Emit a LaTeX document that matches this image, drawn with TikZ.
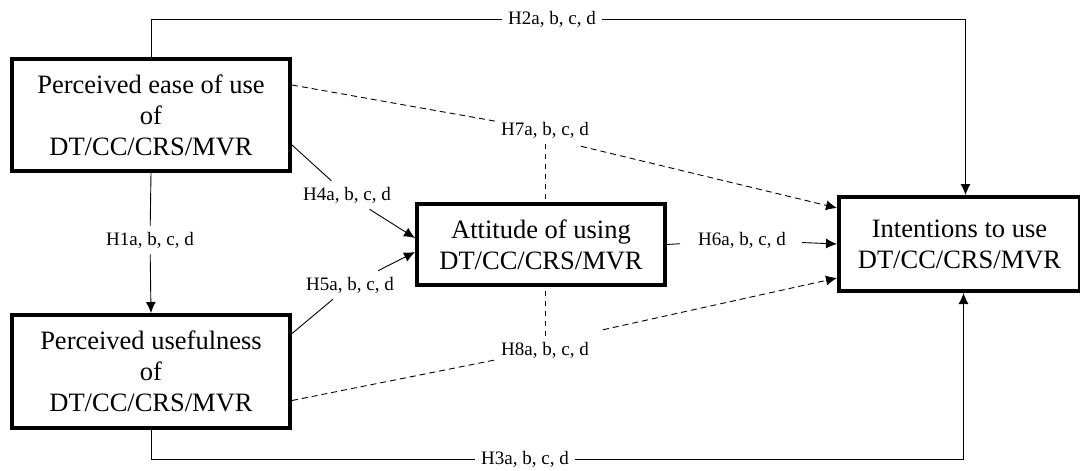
\documentclass[tikz,border=0pt]{standalone}
\usepackage{fontspec}
\setmainfont{Liberation Serif}
\usetikzlibrary{arrows.meta}

\begin{document}
\begin{tikzpicture}[x=1pt, y=-1pt,
    construct/.style={draw, line width=4pt, align=center, inner sep=0pt, font=\fontsize{26.5}{31}\selectfont},
    hyp/.style={inner sep=6pt, font=\fontsize{19}{22}\selectfont},
    link/.style={line width=0.9pt},
    effect/.style={link, -{Latex[length=11pt, width=10pt]}},
    weak/.style={link, dash pattern=on 6pt off 4pt}] % pixel-sized units, y runs downwards

        \useasboundingbox (0,0) rectangle (1080,471);

        % Define the 4 construct boxes
        \node[construct, minimum width=278pt, minimum height=112pt] (ease) at (151,115) {Perceived ease of use\\of\\DT/CC/CRS/MVR};
        \node[construct, minimum width=278pt, minimum height=113pt] (useful) at (151,371.5) {Perceived usefulness\\of\\DT/CC/CRS/MVR};
        \node[construct, minimum width=248pt, minimum height=81pt] (attitude) at (541,244.5) {Attitude of using\\DT/CC/CRS/MVR};
        \node[construct, minimum width=241pt, minimum height=94pt] (intent) at (959.5,244) {Intentions to use\\DT/CC/CRS/MVR};

        % Hypothesis labels
        \node[hyp] (h1) at (150,240) {H1a, b, c, d};
        \node[hyp] (h2) at (552,19) {H2a, b, c, d};
        \node[hyp] (h3) at (525,459) {H3a, b, c, d};
        \node[hyp] (h4) at (347,195) {H4a, b, c, d};
        \node[hyp] (h5) at (350,285) {H5a, b, c, d};
        \node[hyp] (h6) at (742,240) {H6a, b, c, d};
        \node[hyp] (h7) at (545,130) {H7a, b, c, d};
        \node[hyp] (h8) at (545,350) {H8a, b, c, d};

        % Draw the solid paths
        \draw[link] (ease.south) -- (h1);
        \draw[effect] (h1) -- (useful.north);
        \draw[link] (ease.north) |- (h2);
        \draw[effect] (h2) -| ([xshift=6pt]intent.north);
        \draw[link] (useful.south) |- (h3);
        \draw[effect] (h3) -| ([xshift=4pt]intent.south);
        \draw[link] ([yshift=-30pt]ease.east) -- (h4);
        \draw[effect] (h4) -- ([yshift=6.5pt]attitude.west);
        \draw[link] ([yshift=38pt]useful.east) -- (h5);
        \draw[effect] (h5) -- ([yshift=-7.5pt]attitude.west);
        \draw[link, shorten >=12pt] (attitude.east) -- (h6);
        \draw[effect, shorten <=10pt] (h6) -- (intent.west);

        % Draw the dashed paths
        \draw[weak] ([yshift=30pt]ease.east) -- (h7);
        \draw[weak, -{Latex[length=11pt, width=10pt]}] ([xshift=-14pt, yshift=-2pt]h7.south east) -- ([yshift=36pt]intent.west);
        \draw[weak, dash pattern=on 5pt off 5pt] (h7.south) -- (h7.south |- attitude.north);
        \draw[weak] ([yshift=-29pt]useful.east) -- (h8);
        \draw[weak, -{Latex[length=11pt, width=10pt]}] ([xshift=8pt, yshift=6pt]h8.north east) -- ([yshift=-34pt]intent.west);
        \draw[weak, dash pattern=on 5pt off 5pt] (h8.north) -- (h8.north |- attitude.south);
        \end{tikzpicture}
\end{document}
